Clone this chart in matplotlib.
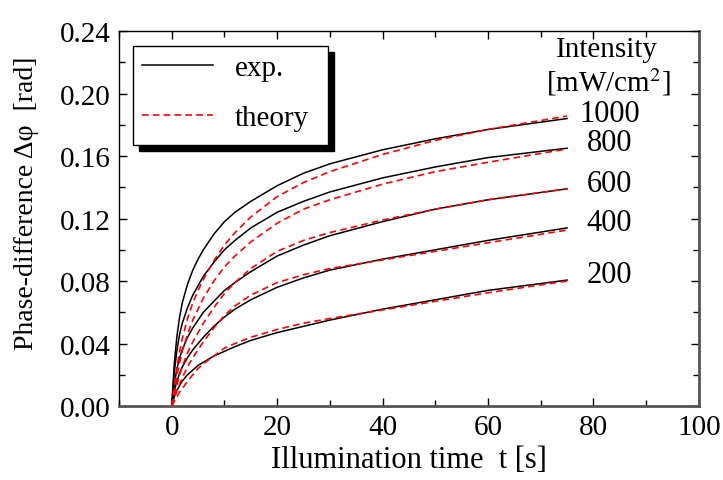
import matplotlib
matplotlib.use("Agg")
import matplotlib.pyplot as plt
from matplotlib.patches import Rectangle

plt.rcParams['font.family'] = ['Liberation Serif', 'DejaVu Serif']
plt.rcParams['mathtext.fontset'] = 'stix'

# illumination time [s]
t = [0, 0.5, 1, 1.5, 2, 3, 4, 5, 6, 8, 10, 12, 15, 20, 25, 30, 40, 50, 60, 75]

# intensities [mW/cm^2]
intensities = ["1000", "800", "600", "400", "200"]

# measured phase difference [rad]
exp_1000 = [0, 0.028, 0.045, 0.057, 0.066, 0.078, 0.087, 0.094, 0.100, 0.110, 0.118, 0.124, 0.131, 0.141, 0.149, 0.155, 0.164, 0.171, 0.177, 0.184]
exp_800 = [0, 0.022, 0.036, 0.046, 0.053, 0.063, 0.071, 0.077, 0.083, 0.092, 0.100, 0.106, 0.114, 0.124, 0.131, 0.137, 0.146, 0.153, 0.159, 0.165]
exp_600 = [0, 0.014, 0.024, 0.031, 0.036, 0.044, 0.050, 0.055, 0.060, 0.067, 0.074, 0.079, 0.086, 0.096, 0.103, 0.109, 0.118, 0.126, 0.132, 0.139]
exp_400 = [0, 0.010, 0.016, 0.021, 0.025, 0.031, 0.036, 0.040, 0.044, 0.051, 0.057, 0.062, 0.068, 0.076, 0.082, 0.087, 0.094, 0.100, 0.106, 0.114]
exp_200 = [0, 0.006, 0.010, 0.013, 0.016, 0.020, 0.023, 0.026, 0.028, 0.032, 0.035, 0.038, 0.042, 0.047, 0.051, 0.055, 0.062, 0.068, 0.074, 0.0806]

# theoretical phase difference [rad]
th_1000 = [0, 0.013, 0.025, 0.035, 0.043, 0.056, 0.066, 0.074, 0.081, 0.093, 0.103, 0.111, 0.121, 0.134, 0.143, 0.150, 0.161, 0.170, 0.177, 0.1856]
th_800 = [0, 0.010, 0.020, 0.028, 0.035, 0.046, 0.055, 0.062, 0.069, 0.080, 0.089, 0.096, 0.105, 0.117, 0.126, 0.132, 0.142, 0.150, 0.156, 0.1645]
th_600 = [0, 0.007, 0.014, 0.020, 0.025, 0.034, 0.041, 0.047, 0.053, 0.063, 0.072, 0.079, 0.088, 0.099, 0.106, 0.111, 0.119, 0.126, 0.132, 0.139]
th_400 = [0, 0.005, 0.010, 0.014, 0.018, 0.025, 0.031, 0.036, 0.041, 0.050, 0.058, 0.064, 0.071, 0.079, 0.084, 0.088, 0.0935, 0.099, 0.1045, 0.1126]
th_200 = [0, 0.003, 0.006, 0.009, 0.011, 0.016, 0.020, 0.024, 0.027, 0.032, 0.037, 0.040, 0.044, 0.049, 0.053, 0.056, 0.0615, 0.067, 0.0725, 0.080]

exp_all = [exp_1000, exp_800, exp_600, exp_400, exp_200]
th_all = [th_1000, th_800, th_600, th_400, th_200]

fig = plt.figure(figsize=(7.23, 4.81), dpi=100)
ax = fig.add_axes([0.1646, 0.1538, 0.802, 0.7796])

for i, (e, th) in enumerate(zip(exp_all, th_all)):
    ax.plot(t, e, color="black", lw=1.1, label="exp." if i == 0 else None, zorder=2)
    ax.plot(t, th, color="red", lw=1.2, ls=(0, (4, 2.5)), label="theory" if i == 0 else None, zorder=3)
    ax.text(83, e[-1] + 0.0035, intensities[i], fontsize=22, ha="center", va="center")

ax.text(82.5, 0.2285, "Intensity", fontsize=21, ha="center", va="center")
ax.text(82.8, 0.208, "[mW/cm$^2$]", fontsize=21, ha="center", va="center")

ax.set_xlim(-10, 100)
ax.set_ylim(0, 0.24)
ax.set_xticks([0, 20, 40, 60, 80, 100])
ax.set_xticks([-10, 10, 30, 50, 70, 90], minor=True)
ax.set_yticks([0, 0.04, 0.08, 0.12, 0.16, 0.20, 0.24])
ax.set_yticks([0.02, 0.06, 0.10, 0.14, 0.18, 0.22], minor=True)
ax.set_yticklabels(["0.00", "0.04", "0.08", "0.12", "0.16", "0.20", "0.24"])
ax.tick_params(which="both", direction="in", top=True, right=True, labelsize=21, width=1)
ax.tick_params(which="major", length=6, pad=6)
ax.tick_params(which="minor", length=4)

for s in ["left", "top"]:
    ax.spines[s].set_color("black")
    ax.spines[s].set_linewidth(1)
for s in ["right", "bottom"]:
    ax.spines[s].set_color("#555555")
    ax.spines[s].set_linewidth(2)

ax.set_xlabel("Illumination time  t [s]", fontsize=22, labelpad=3)
ax.set_ylabel("Phase-difference Δφ  [rad]", fontsize=20)
ax.yaxis.set_label_coords(-0.138, 0.544)

# legend frame with solid shadow
ax.add_patch(Rectangle((0.0345, 0.680), 0.336, 0.264, transform=ax.transAxes,
                       facecolor="black", edgecolor="black", zorder=4))
ax.add_patch(Rectangle((0.024, 0.696), 0.336, 0.264, transform=ax.transAxes,
                       facecolor="white", edgecolor="black", lw=1, zorder=4.5))
ax.legend(loc="upper left", bbox_to_anchor=(0.024, 0.96), frameon=False,
          fontsize=21, handlelength=2.45, handletextpad=0.75, labelspacing=0.8,
          borderpad=0.3, borderaxespad=0)

fig.savefig("out.png", dpi=100)
